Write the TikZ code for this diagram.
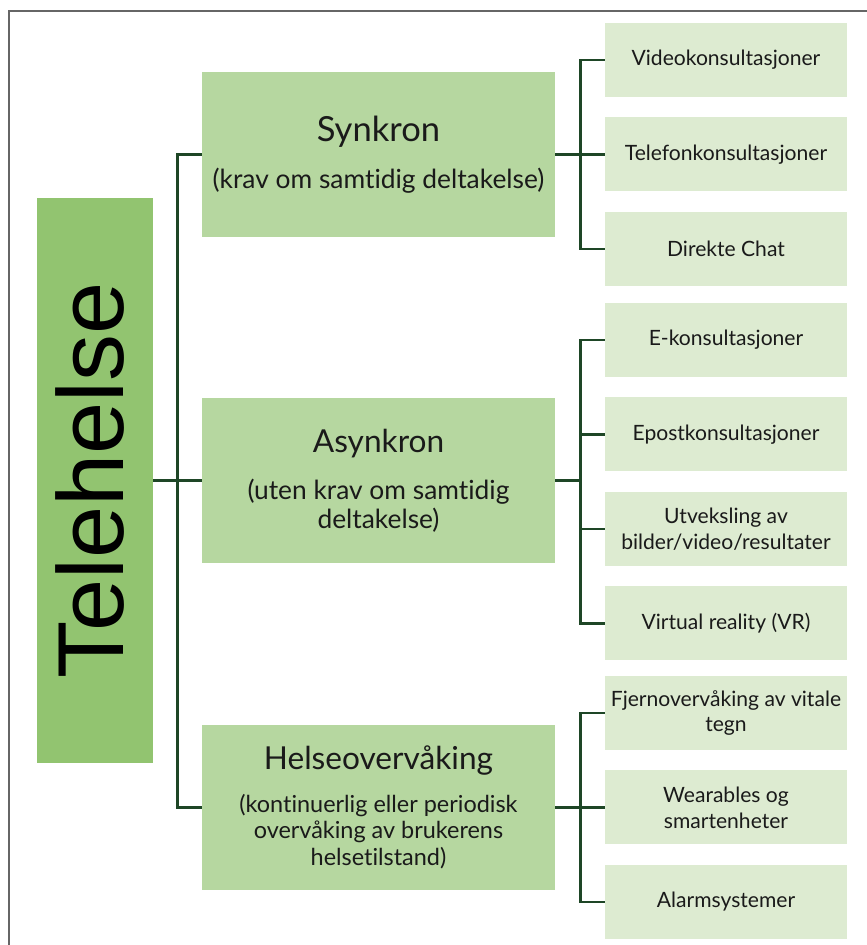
\documentclass[tikz,border=0pt]{standalone}
\usepackage{fontspec}
\setmainfont[Ligatures=NoCommon]{Lato}
\newfontfamily\rootfont{Liberation Sans}
\usetikzlibrary{positioning}
\definecolor{rootgreen}{RGB}{146,196,112}
\definecolor{midgreen}{RGB}{182,215,160}
\definecolor{leafgreen}{RGB}{221,235,209}
\definecolor{stem}{RGB}{30,70,38}
\definecolor{ink}{RGB}{26,26,26}
\newcommand{\bigtitle}{\fontsize{29.5}{34}\selectfont}
\newcommand{\grouptitle}{\fontsize{27}{32}\selectfont}
\newcommand{\groupnote}{\fontsize{22.5}{27}\selectfont}
\newcommand{\smallnote}{\fontsize{20}{24}\selectfont}
\begin{document}
\begin{tikzpicture}[x=0.03cm,y=-0.03cm,text=ink,
    every node/.style={inner sep=0pt,align=center},
    root/.style={fill=rootgreen,minimum width=3.48cm,minimum height=16.95cm},
    branch/.style={fill=midgreen,minimum width=10.59cm,minimum height=4.95cm},
    leaf/.style={fill=leafgreen,minimum width=7.26cm,minimum height=2.22cm,font=\fontsize{18}{22}\selectfont},
    link/.style={draw=stem,line width=2.4pt},
    node distance=0.6cm]
    \useasboundingbox (0,0) rectangle (867,945);
    \draw [gray!80!black,line width=1pt] (9,945) -- (9,11) -- (867,11);

    % root and the three groups
    \node [root] (tele) at (95,480.5) {\rotatebox{90}{\rootfont\fontsize{80}{86}\selectfont\color{black}Telehelse}\hspace*{8pt}};
    \node [branch] (syn) at (378.5,154.5) {\bigtitle Synkron\\[17pt]
        \groupnote (krav om samtidig deltakelse)};
    \node [branch] (asy) at (378.5,480.5) {\grouptitle Asynkron\\[17pt]
        \groupnote (uten krav om samtidig\\[2pt]\groupnote deltakelse)};
    \node [branch] (hel) at (378.5,807.5) {\grouptitle Helseovervåking\\[15pt]
        \smallnote (kontinuerlig eller periodisk\\[3pt]\smallnote overvåking av brukerens\\[3pt]\smallnote helsetilstand)};

    % leaves
    \node [leaf] (video) at (726,60) {Videokonsultasjoner};
    \node [leaf,below=of video] (phone) {Telefonkonsultasjoner};
    \node [leaf,below=of phone] (chat) {Direkte Chat};

    \node [leaf] (ekons) at (726,340) {E-konsultasjoner};
    \node [leaf,below=of ekons] (epost) {Epostkonsultasjoner};
    \node [leaf,below=of epost] (share) {Utveksling av\\bilder/video/resultater};
    \node [leaf,below=of share] (vr) {Virtual reality (VR)};

    \node [leaf] (remote) at (726,713) {Fjernovervåking av vitale\\tegn};
    \node [leaf,below=of remote] (wear) {Wearables og\\smartenheter};
    \node [leaf,below=of wear] (alarm) {Alarmsystemer};

    % connectors
    \draw [link] (tele.east) -- ++(24.5,0) coordinate (t1);
    \draw [link] (t1) -- (asy.west);
    \draw [link] (syn.west) -| (t1) |- (hel.west);

    \draw [link] (syn.east) -- ++(25,0) coordinate (s1);
    \draw [link] (video.west) -| (s1) |- (chat.west);
    \draw [link] (s1) -- (phone.west);

    \draw [link] (asy.east) -- ++(25,0) coordinate (a1);
    \draw [link] (ekons.west) -| (a1) |- (vr.west);
    \draw [link] (epost.west) -- (epost.west -| a1);
    \draw [link] (share.west) -- (share.west -| a1);

    \draw [link] (hel.east) -- ++(25,0) coordinate (h1);
    \draw [link] (remote.west) -| (h1) |- (alarm.west);
    \draw [link] (wear.west) -- (wear.west -| h1);
\end{tikzpicture}
\end{document}
